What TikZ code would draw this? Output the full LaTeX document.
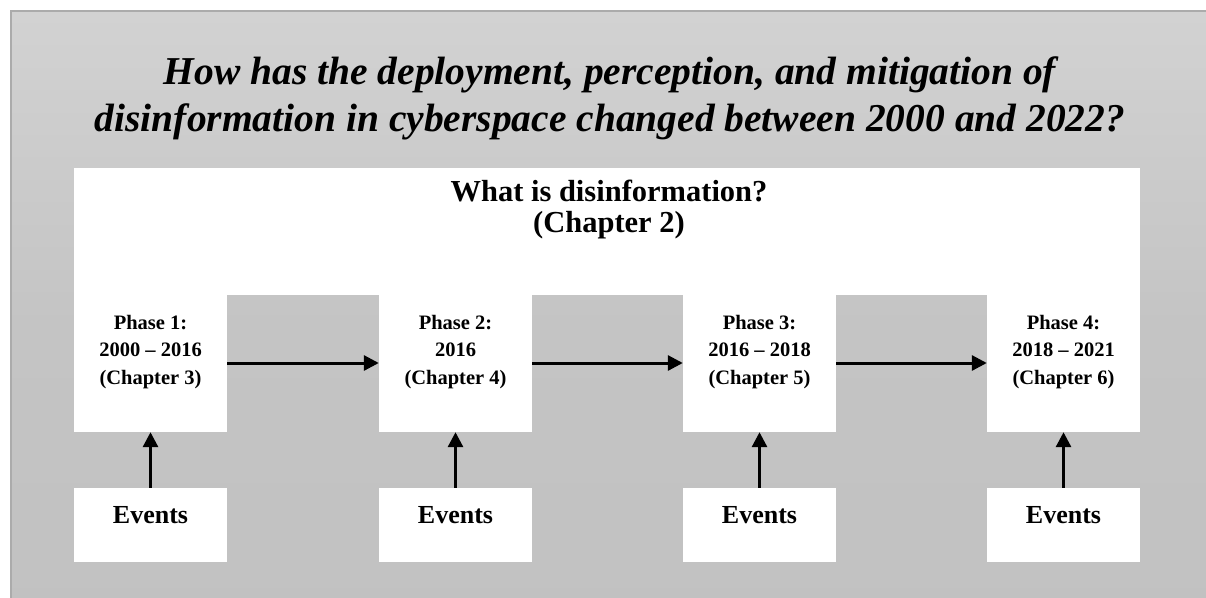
\documentclass[tikz,border=0pt]{standalone}
\usepackage{fontspec}
\setmainfont{Liberation Serif}
\usetikzlibrary{arrows.meta}

\definecolor{framegray}{HTML}{ABABAB}
\definecolor{bgtop}{HTML}{D2D2D2}
\definecolor{bgmid}{HTML}{C4C4C4}
\definecolor{bgbot}{HTML}{C1C1C1}
\pgfdeclareverticalshading{panelshade}{100bp}{%
  color(0bp)=(bgbot); color(25bp)=(bgbot); color(50bp)=(bgmid);
  color(75bp)=(bgtop); color(100bp)=(bgtop)}

\tikzset{
  panel/.style={draw=framegray, line width=1.2pt, shading=panelshade},
  whitebox/.style={fill=white, draw=none, inner sep=0pt, minimum width=153pt},
  phasebox/.style={whitebox, minimum height=138pt},
  eventbox/.style={whitebox, inner ysep=0pt, text height=35pt, text depth=39pt,
    font=\fontsize{26}{28}\selectfont\bfseries},
  headbox/.style={fill=white, draw=none, inner sep=0pt,
    minimum width=1066pt, minimum height=127pt},
  phasetext/.style={anchor=base, inner sep=0pt,
    font=\fontsize{20.5}{27.5}\selectfont\bfseries},
  flow/.style={line width=3pt, -{Triangle[length=15pt,width=15pt]}},
}

\begin{document}
\begin{tikzpicture}[x=1pt, y=-1pt]
\useasboundingbox (0,0) rectangle (1206,597);
\clip (0,0) rectangle (1206,597);

% shaded panel behind everything
\path[panel] (11,11) rectangle (1240,640);

% research question
\node[anchor=base, inner sep=0pt, font=\fontsize{39.5}{47}\selectfont\bfseries\itshape]
  (question) at (610,84)
  {\begin{tabular}[t]{@{}c@{}}How has the deployment, perception, and mitigation of\\
   disinformation in cyberspace changed between 2000 and 2022?\end{tabular}};

% definition block
\node[headbox] (head) at (607,231) {};
\node[anchor=base, inner sep=0pt, font=\fontsize{30.5}{31}\selectfont\bfseries]
  (headtext) at (609,201)
  {\begin{tabular}[t]{@{}c@{}}What is disinformation?\\(Chapter 2)\end{tabular}};

% phase boxes
\node[phasebox] (p1) at (150.5,363) {};
\node[phasebox] (p2) at (455.5,363) {};
\node[phasebox] (p3) at (759.5,363) {};
\node[phasebox] (p4) at (1063.5,363) {};

\node[phasetext] (t1) at (150.5,329)
  {\begin{tabular}[t]{@{}c@{}}Phase 1:\\2000 – 2016\\(Chapter 3)\end{tabular}};
\node[phasetext] (t2) at (455.5,329)
  {\begin{tabular}[t]{@{}c@{}}Phase 2:\\2016\\(Chapter 4)\end{tabular}};
\node[phasetext] (t3) at (759.5,329)
  {\begin{tabular}[t]{@{}c@{}}Phase 3:\\2016 – 2018\\(Chapter 5)\end{tabular}};
\node[phasetext] (t4) at (1063.5,329)
  {\begin{tabular}[t]{@{}c@{}}Phase 4:\\2018 – 2021\\(Chapter 6)\end{tabular}};

% event boxes
\node[eventbox] (e1) at (150.5,525) {Events};
\node[eventbox] (e2) at (455.5,525) {Events};
\node[eventbox] (e3) at (759.5,525) {Events};
\node[eventbox] (e4) at (1063.5,525) {Events};

% connectors
\draw[flow] (p1.east) -- (p2.west);
\draw[flow] (p2.east) -- (p3.west);
\draw[flow] (p3.east) -- (p4.west);
\foreach \i in {1,...,4}
  \draw[flow] (e\i.north) -- (p\i.south);
\end{tikzpicture}
\end{document}
